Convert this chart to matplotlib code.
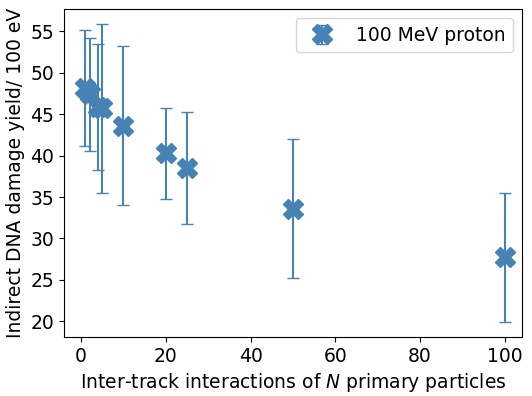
import matplotlib
matplotlib.use("Agg")
import matplotlib.pyplot as plt

N = [1, 2, 4, 5, 10, 20, 25, 50, 100]
yield_vals = [48.2, 47.4, 45.9, 45.7, 43.6, 40.3, 38.5, 33.6, 27.7]
yield_err = [7.0, 6.8, 7.6, 10.2, 9.6, 5.5, 6.8, 8.4, 7.8]

fs = 13.5
fig = plt.figure(figsize=(5.32, 3.96), dpi=100)
ax = fig.add_axes([64/532, 1-337/396, (522-64)/532, (337-9)/396])
ax.errorbar(N, yield_vals, yerr=yield_err, fmt='X', color='steelblue',
            markersize=14, capsize=4, elinewidth=1.5, label='100 MeV proton')
ax.set_xlim(-4.05, 104.1)
ax.set_xlabel('Inter-track interactions of $N$ primary particles', fontsize=fs)
ax.set_ylabel('Indirect DNA damage yield/ 100 eV', fontsize=fs)
ax.tick_params(labelsize=fs)
ax.legend(fontsize=fs, loc='upper right')
fig.savefig('out.png', dpi=100)
